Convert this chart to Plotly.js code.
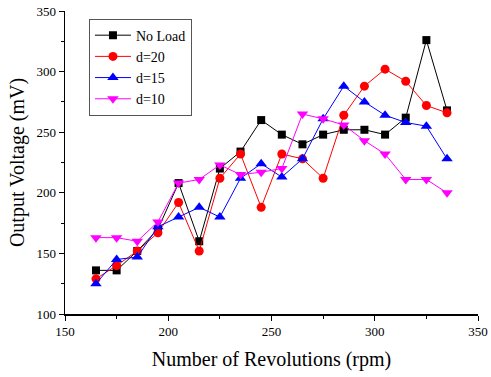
<!DOCTYPE html>
<html>
<head>
<meta charset="utf-8">
<script src="https://cdn.plot.ly/plotly-3.0.1.min.js"></script>
<style>html,body{margin:0;padding:0;background:#fff;}#chart{width:491px;height:377px;}</style>
</head>
<body>
<div id="chart"></div>
<script>
const rpm = [165,175,185,195,205,215,225,235,245,255,265,275,285,295,305,315,325,335];
const noLoad = [136,136,152,170,208,160,220,234,260,248,240,248,252,252,248,262,326,268];
const d20 = [129,140,152,167,192,152,212,232,188,232,228,212,264,288,302,292,272,266];
const d15 = [125,145,147,172,180,188,180,212,224,213,228,261,288,275,264,258,255,228];
const d10 = [163,163,160,176,208,211,223,215,217,220,265,261,256,243,232,211,211,200];
const seriesNames = ["No Load","d=20","d=15","d=10"];

const font = "'Liberation Serif', 'Times New Roman', serif";
function tr(y, name, color, symbol, size){
  return {x: rpm, y: y, name: name, type: 'scatter', mode: 'lines+markers',
    line: {color: color, width: 1}, marker: {color: color, symbol: symbol, size: size}};
}
const data = [
  tr(noLoad, seriesNames[0], '#000000', 'square', 8),
  tr(d20, seriesNames[1], '#ff0000', 'circle', 9),
  tr(d15, seriesNames[2], '#0000ff', 'triangle-up', 10),
  tr(d10, seriesNames[3], '#ff00ff', 'triangle-down', 10)
];
const layout = {
  width: 491, height: 377,
  margin: {l: 65, r: 13, t: 11, b: 63},
  paper_bgcolor: '#fff', plot_bgcolor: '#fff',
  font: {family: font, color: '#000', size: 13},
  showlegend: true,
  legend: {x: 0.058, y: 0.975, xanchor: 'left', yanchor: 'top',
    bordercolor: '#555', borderwidth: 1, bgcolor: '#fff',
    font: {family: font, size: 14}, tracegroupgap: 0, itemwidth: 36},
  xaxis: {range: [150, 350], dtick: 50, tick0: 150, ticks: 'outside', ticklen: 5,
    tickcolor: '#000', showgrid: false, zeroline: false, showline: true,
    linecolor: '#000', linewidth: 1.5, tickfont: {family: font, size: 13},
    minor: {dtick: 25, ticks: 'outside', ticklen: 3, tickcolor: '#000', showgrid: false},
    title: {text: 'Number of Revolutions (rpm)', font: {family: font, size: 20}, standoff: 14}},
  yaxis: {range: [100, 350], dtick: 50, tick0: 100, ticks: 'outside', ticklen: 5,
    tickcolor: '#000', showgrid: false, zeroline: false, showline: true,
    linecolor: '#000', linewidth: 1.5, tickfont: {family: font, size: 13},
    minor: {dtick: 25, ticks: 'outside', ticklen: 3, tickcolor: '#000', showgrid: false},
    title: {text: 'Output Voltage (mV)', font: {family: font, size: 20}, standoff: 6}}
};
Plotly.newPlot('chart', data, layout, {displayModeBar: false, staticPlot: true});
</script>
</body>
</html>
